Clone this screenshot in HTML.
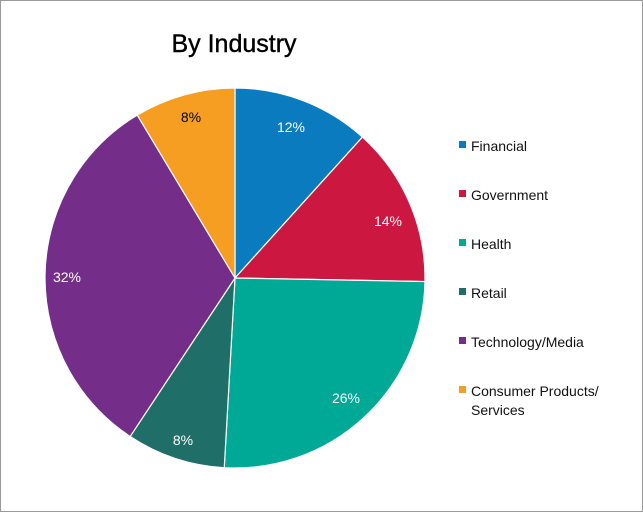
<!DOCTYPE html>
<html><head><meta charset="utf-8"><style>
html,body{margin:0;padding:0;background:#fff}
svg{display:block;font-family:"Liberation Sans",sans-serif}
</style></head><body>
<svg id="s" width="643" height="512" viewBox="0 0 643 512">
<rect x="0.5" y="0.5" width="642" height="511" fill="#fff" stroke="#999"/>
<text x="234" y="52" font-size="25" text-anchor="middle" fill="#000" stroke="#000" stroke-width="0.4">By Industry</text>
<g id="pie"></g>
<g font-size="14" fill="#fff" text-anchor="middle">
<text x="291" y="132">12%</text>
<text x="388" y="226">14%</text>
<text x="346" y="403">26%</text>
<text x="183" y="445">8%</text>
<text x="67" y="282">32%</text>
<text x="191" y="122" fill="#000">8%</text>
</g>
<g font-size="14" fill="#111">
<rect x="459" y="141" width="7" height="7" fill="#0a7bbf"/><text x="471" y="151">Financial</text>
<rect x="459" y="190" width="7" height="7" fill="#cc1840"/><text x="471" y="200">Government</text>
<rect x="459" y="239" width="7" height="7" fill="#00a896"/><text x="471" y="249">Health</text>
<rect x="459" y="288" width="7" height="7" fill="#1f6e67"/><text x="471" y="298">Retail</text>
<rect x="459" y="337" width="7" height="7" fill="#742d88"/><text x="471" y="347">Technology/Media</text>
<rect x="459" y="386" width="7" height="7" fill="#f59e22"/><text x="471" y="396">Consumer Products/</text>
<text x="471" y="415">Services</text>
</g>
</svg>
<script>
var cx=235,cy=278,r=190;
var cum=[0,0.117,0.253,0.509,0.593,0.914,1],c=["#0a7bbf","#cc1840","#00a896","#1f6e67","#742d88","#f59e22"];
var g=document.getElementById("pie"),h="";
function pt(f){var t=f*2*Math.PI;return [cx+r*Math.sin(t),cy-r*Math.cos(t)];}
for(var i=0;i<6;i++){var a=cum[i],b=cum[i+1],p1=pt(a),p2=pt(b);
h+='<path d="M'+cx+','+cy+'L'+p1[0].toFixed(2)+','+p1[1].toFixed(2)+'A'+r+','+r+' 0 '+(b-a>0.5?1:0)+' 1 '+p2[0].toFixed(2)+','+p2[1].toFixed(2)+'Z" fill="'+c[i]+'" stroke="#fff" stroke-width="1.2"/>';}
g.innerHTML=h;
</script>
</body></html>
